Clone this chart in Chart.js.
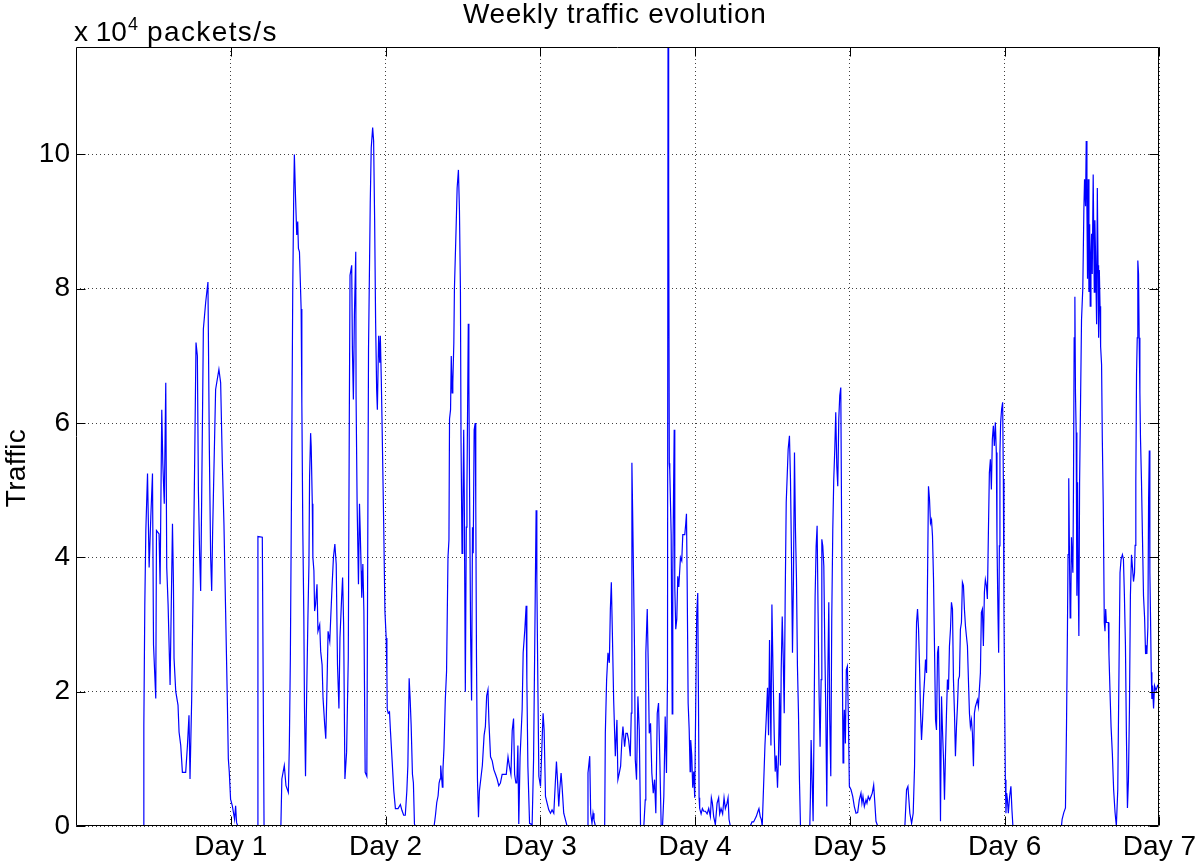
<!DOCTYPE html>
<html>
<head>
<meta charset="utf-8">
<script src="https://cdn.jsdelivr.net/npm/chart.js@4"></script>
<style>
html,body{margin:0;padding:0;background:#ffffff;}
#wrap{width:1200px;height:865px;}
</style>
</head>
<body>
<div id="wrap"><canvas id="c" width="1200" height="865"></canvas></div>
<script>
// ---- data (time in hours since start of week, traffic in 10^4 packets/s) ----
const hours = [
  0,10.47,10.52,10.67,10.83,11.09,11.34,11.60,11.86,12.02,
  12.37,12.48,12.88,13.04,13.30,13.46,13.69,13.92,14.07,14.28,
  14.59,14.96,15.11,15.20,15.47,15.82,15.98,16.24,16.50,17.01,
  17.28,17.52,17.68,17.94,18.14,18.41,18.61,18.82,18.98,19.18,
  19.33,19.49,19.75,20.11,20.46,20.68,20.88,21.04,21.19,21.65,
  22.16,22.43,22.69,22.94,23.20,23.46,23.62,23.77,23.97,24.24,
  24.59,24.75,24.90,25.10,
  28.07,28.21,28.89,29.16,31.77,31.92,32.30,32.56,32.93,33.08,
  33.24,33.44,33.61,33.76,33.86,34.03,34.23,34.38,34.49,34.65,
  34.91,35.02,35.17,35.33,35.43,35.59,35.70,35.96,36.12,36.22,
  36.38,36.47,36.64,36.73,36.89,37.00,37.15,37.37,37.52,37.79,
  37.94,38.16,38.31,38.57,38.73,38.88,39.09,39.35,39.50,39.72,
  39.92,40.14,40.35,40.55,40.77,40.93,41.19,41.34,41.50,41.70,
  41.96,42.22,42.38,42.49,42.75,42.86,43.01,43.17,43.38,43.43,
  43.59,43.80,43.96,44.07,44.22,44.31,44.48,44.64,44.84,45.10,
  45.36,45.63,45.78,46.00,46.15,46.31,46.46,46.62,46.73,46.93,
  47.10,47.19,47.34,47.45,47.72,47.90,48.10,48.21,48.26,48.41,
  48.61,48.77,49.02,49.28,49.53,49.94,50.30,50.55,50.81,51.06,
  51.30,51.46,51.66,51.81,51.97,52.17,52.32,52.48,52.59,
  55.53,55.74,55.94,56.15,56.30,56.45,56.55,56.66,56.81,56.90,
  57.06,57.26,57.46,57.68,57.83,57.92,58.08,58.19,58.33,58.43,
  58.59,58.68,58.94,59.10,59.30,59.46,59.61,59.70,59.86,59.97,
  60.12,60.21,60.37,60.52,60.62,60.83,60.92,61.03,61.19,61.34,
  61.48,61.59,61.74,61.90,61.99,62.10,62.25,62.41,62.55,62.77,
  63.01,63.28,63.48,63.68,63.88,64.03,64.28,64.54,64.79,65.05,
  65.30,65.56,65.81,66.08,66.32,66.72,66.99,67.19,67.44,67.64,
  67.85,68.01,68.21,68.36,68.52,68.66,68.86,69.18,69.34,69.60,
  69.80,69.91,70.07,70.33,70.73,70.95,71.10,71.26,71.35,71.46,
  71.61,71.77,72.03,72.28,72.43,72.59,72.80,73.05,73.31,73.58,
  73.82,74.09,74.35,74.50,74.66,74.86,75.01,75.22,75.37,75.63,
  75.90,76.14,
  79.24,79.39,79.66,79.81,80.01,80.17,80.32,80.54,81.98,82.08,
  82.28,82.49,82.70,82.86,83.01,83.17,83.37,83.63,83.88,84.03,
  84.25,84.45,84.65,84.81,85.07,85.27,85.49,85.69,85.95,86.10,
  86.20,86.31,86.46,86.61,86.72,86.92,87.13,87.34,87.54,88.05,
  88.27,88.36,88.58,88.73,88.89,89.09,89.29,89.51,89.71,89.91,
  90.13,90.33,90.53,90.74,90.95,91.15,91.36,91.56,91.72,91.80,
  91.90,92.00,92.07,92.29,92.45,92.54,92.65,92.76,92.85,93.00,
  93.16,93.31,93.47,93.73,93.93,94.09,94.40,94.55,94.66,94.77,
  94.92,95.08,95.23,95.32,95.48,95.63,95.79,95.94,96.10,96.25,
  96.41,96.51,96.62,96.71,96.93,97.13,97.33,97.60,97.86,98.11,
  98.37,98.52,98.68,98.88,99.14,99.41,99.65,99.81,100.02,100.27,
  100.49,100.69,100.95,101.11,101.26,101.46,
  104.56,104.82,105.07,105.48,105.75,105.90,106.10,106.26,106.41,106.61,
  106.83,107.03,107.23,107.39,107.54,107.76,107.91,108.07,108.27,108.42,
  108.58,108.78,108.93,109.09,109.23,109.35,109.51,109.66,109.82,109.97,
  110.13,110.28,110.43,110.63,110.79,110.94,111.10,111.25,111.41,111.56,
  111.72,111.87,112.03,112.18,112.34,113.79,113.88,113.99,114.14,114.30,
  114.46,114.61,114.77,114.92,115.07,115.23,115.38,115.54,115.65,115.80,
  115.96,116.11,116.27,116.42,116.57,116.73,116.88,117.04,117.19,117.35,
  117.50,117.66,117.81,117.97,118.12,118.28,118.43,118.59,118.74,118.83,
  118.94,119.05,119.14,119.30,119.45,119.61,119.76,119.92,120.18,120.44,
  120.69,120.95,121.21,121.46,121.72,121.87,122.03,122.24,122.50,122.65,
  122.85,123.07,123.27,123.47,123.69,123.84,124.05,124.31,
  128.53,128.79,129.00,129.15,129.30,129.57,129.82,130.03,130.18,130.34,
  130.49,130.65,130.80,130.96,131.11,131.27,131.42,131.58,131.73,131.89,
  132.04,132.19,132.35,132.50,132.66,132.81,132.97,133.12,133.28,133.43,
  133.59,133.74,133.90,134.05,134.21,134.36,134.52,134.67,134.82,134.98,
  135.13,135.29,135.44,135.60,135.75,135.91,136.06,136.22,136.37,136.53,
  136.68,136.83,136.99,137.14,137.30,137.45,137.61,137.76,137.92,138.07,
  138.23,138.38,138.54,138.69,138.85,139.00,139.16,139.31,139.47,139.62,
  139.77,139.93,140.08,140.24,140.39,140.55,140.70,140.86,141.01,141.17,
  141.32,141.48,141.63,141.79,141.94,142.09,142.25,142.40,142.56,142.71,
  142.81,142.96,143.07,143.18,143.27,143.38,143.53,143.69,143.80,143.89,
  144.00,144.11,144.20,144.31,144.42,144.57,144.77,144.97,145.13,145.28,
  152.81,152.91,153.17,153.43,153.59,153.74,153.83,153.94,154.05,154.16,
  154.25,154.36,154.47,154.58,154.67,154.78,154.89,154.98,155.09,155.20,
  155.31,155.40,155.51,155.62,155.77,155.92,156.12,156.28,156.39,156.54,
  156.65,156.76,156.85,156.96,157.07,157.18,157.27,157.38,157.48,157.58,
  157.73,157.90,157.99,158.10,158.26,158.37,158.48,158.57,158.68,158.79,
  158.88,159.03,159.14,159.29,159.45,159.56,159.67,159.77,160.08,160.17,
  160.33,160.50,160.70,160.90,161.12,161.32,161.54,161.74,161.89,162.05,
  162.26,162.42,162.57,162.73,162.88,163.04,163.19,163.35,163.50,163.67,
  163.83,163.98,164.14,164.23,164.34,164.45,164.56,164.65,164.76,164.86,
  164.97,165.06,165.22,165.37,165.53,165.70,165.85,165.96,166.05,166.21,
  166.32,166.43,166.52,166.62,166.73,166.83,166.93,167.09,167.24,167.46,
  167.72,168
];

const traffic = [
  0,0,1.5,3.3,4.4,5.25,3.85,4.6,5.25,2.7,
  1.9,4.4,4.35,3.6,6.2,5.4,4.8,6.6,3.85,3.3,
  2.1,4.5,3.6,2.5,2.0,1.8,1.4,1.2,0.8,0.8,
  1.2,1.65,0.7,1.9,3.4,5.5,7.2,7.0,5.0,4.0,
  3.5,4.9,7.4,7.8,8.1,5.6,4.0,3.5,4.4,6.5,
  6.8,6.6,5.4,4.5,3.2,1.9,1.0,0.8,0.4,0.3,
  0.1,0.3,0.05,0,
  0,4.31,4.3,0,0,0.7,0.9,0.6,0.5,1.2,
  2.5,5.3,8.0,9.4,10.0,9.4,8.8,9.0,8.6,8.55,
  7.7,6.3,4.4,3.1,1.75,0.74,1.55,3.1,3.9,5.2,
  5.85,5.65,4.8,4.0,3.8,3.2,3.3,3.6,2.9,3.0,
  2.6,2.4,1.9,1.5,1.3,1.9,2.9,2.75,3.1,3.6,
  4.0,4.2,3.9,2.4,1.75,2.8,3.4,3.7,3.0,0.7,
  1.1,2.5,6.05,8.2,8.35,7.1,6.35,7.6,8.55,6.4,
  4.8,3.6,4.8,4.4,3.8,3.4,3.9,3.2,0.8,0.74,
  7.1,9.3,10.1,10.4,10.2,9.0,7.5,6.5,6.2,7.3,
  6.9,7.3,6.65,6.05,4.45,3.2,2.8,2.26,1.74,1.68,
  1.7,1.4,0.97,0.52,0.26,0.26,0.32,0.23,0.16,0.16,
  0.52,0.9,2.2,1.9,1.5,0.77,0.64,0.03,0,
  0,0.16,0.35,0.45,0.64,0.7,0.9,0.77,0.58,0.84,
  1.16,1.87,2.3,4.0,4.26,6.06,6.2,7.0,6.45,6.6,
  7.2,8.0,8.9,9.5,9.77,9.16,8.0,5.8,4.06,4.58,
  5.9,4.9,2.0,4.45,5.0,7.48,6.6,5.0,2.84,1.87,
  4.45,4.06,5.9,6.0,4.77,2.52,0.7,0.13,0.52,0.7,
  0.9,1.35,1.48,1.94,2.03,1.55,1.03,0.97,0.84,0.77,
  0.7,0.6,0.64,0.77,0.77,0.77,1.03,0.9,0.77,1.42,
  1.6,0.77,0.64,0.64,1.2,0.03,1.03,1.73,2.58,2.93,
  3.28,2.18,0.89,0.04,0.02,0.98,2.38,3.9,4.7,3.67,
  2.18,0.74,0.59,1.28,1.68,1.43,0.44,0.34,0.24,0.19,
  0.24,0.19,0.69,0.96,0.69,0.29,0.54,0.79,0.59,0.19,
  0.09,0,
  0,0.79,1.04,0.19,0.04,0.19,0.09,0,0,1.38,
  2.18,2.58,2.43,3.23,3.63,2.88,1.88,1.04,1.58,0.69,
  0.79,0.89,1.28,1.48,1.18,1.38,1.38,1.28,1.04,1.68,
  5.41,4.71,3.67,2.58,0.99,0.69,1.93,1.43,0,0,
  0.39,2.58,3.23,2.43,1.38,1.53,0.79,0.49,0.69,0.19,
  1.68,1.83,0.99,0,0,0.44,1.63,0.79,2.2,11.6,
  9.5,5.4,5.3,4.34,1.67,3.72,4.9,5.9,3.56,2.93,
  3.08,3.72,3.56,4.0,3.95,4.34,4.34,4.5,4.65,3.64,
  1.83,1.44,0.81,1.28,1.05,0.57,0.81,0.42,1.83,3.16,
  3.47,2.06,0.42,0.26,0.18,0.26,0.22,0.22,0.18,0.26,
  0.14,0.42,0.34,0.14,0.02,0.34,0.42,0.18,0.26,0.18,
  0.42,0.26,0.34,0.42,0.1,0,
  0,0.06,0.06,0.14,0.22,0.26,0.14,0.1,0,0.57,
  1.2,1.6,2.06,1.35,2.77,1.2,3.3,2.38,1.35,0.81,
  1.05,0.57,1.05,1.98,0.9,2.33,3.12,2.53,1.68,3.42,
  4.82,5.21,5.61,5.81,5.16,4.07,2.58,3.67,5.56,4.42,
  3.67,2.38,1.68,0.69,0,0,0.44,1.28,0.69,0.07,
  1.68,3.42,4.17,4.47,3.18,1.93,1.18,2.18,4.27,4.17,
  3.87,2.68,1.68,0.29,2.18,3.33,1.58,0.74,3.08,4.42,
  5.16,5.61,6.16,5.36,5.06,6.06,6.41,6.53,4.17,2.43,
  0.94,1.48,1.73,1.23,2.33,2.38,1.68,0.59,0.54,0.44,
  0.29,0.19,0.2,0.39,0.49,0.34,0.44,0.29,0.39,0.34,
  0.44,0.39,0.44,0.49,0.61,0.39,0.07,0,
  0,0.54,0.59,0.39,0.19,0.04,0.19,0.89,2.18,3.03,
  3.23,2.93,2.38,1.68,1.28,1.58,1.93,2.18,2.48,2.28,
  3.67,5.06,4.86,4.51,4.56,4.32,3.67,2.68,1.58,1.43,
  2.58,2.68,1.68,0.07,1.93,1.43,0.99,0.39,1.04,1.68,
  2.18,2.03,2.68,2.93,3.33,3.23,2.18,1.68,1.04,1.48,
  1.78,2.18,2.23,2.93,3.03,3.63,3.58,3.23,2.98,2.83,
  2.68,2.18,1.68,1.48,1.58,1.38,0.89,1.68,1.78,1.83,
  1.88,1.78,2.03,2.28,3.18,3.23,2.68,3.48,3.67,3.58,
  3.38,4.37,5.26,5.46,5.01,5.76,5.96,5.66,6.01,5.56,
  4.27,3.18,2.58,4.17,5.56,6.01,6.21,6.31,5.16,3.18,
  1.88,0.69,0.19,0.49,0.4,0.19,0.44,0.59,0.24,0,
  0,0.1,0.2,0.27,1.48,2.96,4.04,5.18,4.04,3.1,
  3.23,4.3,4.04,3.77,5.0,7.27,7.88,6.46,5.86,3.43,
  5.12,3.7,2.83,5.12,6.33,7.54,8.01,9.16,9.63,9.23,
  10.2,9.16,8.15,9.63,7.95,8.96,7.74,8.48,8.82,8.22,
  9.7,7.95,9.02,8.48,7.47,9.5,8.35,7.27,8.28,7.74,
  7.14,6.87,5.79,4.78,3.03,2.9,3.23,3.03,3.03,2.56,
  2.02,1.48,1.08,0.54,0.2,0,0.54,2.42,3.77,3.97,
  4.04,3.97,3.43,2.69,1.35,0.27,0.67,1.75,3.43,4.04,
  3.84,3.64,3.77,4.18,5.12,6.73,7.27,8.42,8.22,7.27,
  6.46,5.79,5.12,4.3,3.43,3.1,2.56,2.69,2.56,2.96,
  4.85,5.59,3.77,3.1,2.29,1.89,2.09,1.75,2.09,2.02,
  2.09,2.05
];

const yTicks = [0, 2, 4, 6, 8, 10];
const dayTicks = [24, 48, 72, 96, 120, 144, 168];
const dayLabels = ['Day 1', 'Day 2', 'Day 3', 'Day 4', 'Day 5', 'Day 6', 'Day 7'];
const chartTitle = 'Weekly traffic evolution';
const yAxisTitle = 'Traffic';
const unitLabel = ['x 10', '4', 'packets/s'];
const yMax = 11.6;
const xMax = 168;

// ---- drawing ----
const FONT = '"Liberation Sans", Arial, Helvetica, sans-serif';

function setSpacing(ctx, v) { if ('letterSpacing' in ctx) ctx.letterSpacing = v; }

const framePlugin = {
  id: 'matlabFrame',
  afterDatasetsDraw(chart) {
    const { ctx, chartArea: a, scales } = chart;
    const L = Math.round(a.left) + 0.5, R = Math.round(a.right) - 0.5;
    const T = Math.round(a.top) + 0.5, B = Math.round(a.bottom) - 0.5;
    ctx.save();
    ctx.strokeStyle = '#000000';
    ctx.lineWidth = 1;
    ctx.setLineDash([]);
    ctx.beginPath();
    ctx.rect(L, T, R - L, B - T);
    const tk = 9;
    yTicks.forEach(v => {
      const py = Math.round(scales.y.getPixelForValue(v)) + 0.5;
      ctx.moveTo(L, py); ctx.lineTo(L + tk, py);
      ctx.moveTo(R, py); ctx.lineTo(R - tk, py);
    });
    dayTicks.forEach(v => {
      const px = Math.round(scales.x.getPixelForValue(v)) + 0.5;
      ctx.moveTo(px, B); ctx.lineTo(px, B - tk);
      ctx.moveTo(px, T); ctx.lineTo(px, T + tk);
    });
    ctx.stroke();
    ctx.restore();
  },
  afterDraw(chart) {
    const { ctx, chartArea: a } = chart;
    ctx.save();
    ctx.fillStyle = '#000000';
    ctx.textBaseline = 'alphabetic';
    // title
    ctx.font = '28px ' + FONT;
    setSpacing(ctx, '0.7px');
    ctx.textAlign = 'center';
    ctx.fillText(chartTitle, (a.left + a.right) / 2 - 3, 23);
    // unit label  "x 10^4 packets/s"
    ctx.textAlign = 'left';
    setSpacing(ctx, '0px');
    let x = a.left - 2;
    ctx.font = '28px ' + FONT;
    ctx.fillText(unitLabel[0], x, 41);
    x += ctx.measureText(unitLabel[0]).width + 1;
    ctx.font = '18px ' + FONT;
    ctx.fillText(unitLabel[1], x, 30);
    x += ctx.measureText(unitLabel[1]).width + 9;
    ctx.font = '28px ' + FONT;
    setSpacing(ctx, '1.4px');
    ctx.fillText(unitLabel[2], x, 41);
    // y-axis title
    setSpacing(ctx, '0.3px');
    ctx.translate(17, 468);
    ctx.rotate(-Math.PI / 2);
    ctx.textAlign = 'center';
    ctx.textBaseline = 'middle';
    ctx.font = '28px ' + FONT;
    ctx.fillText(yAxisTitle, 0, 0);
    ctx.restore();
  }
};

const gridStyle = {
  color: 'rgba(0,0,0,0.75)',
  lineWidth: 1,
  drawTicks: false
};

new Chart(document.getElementById('c').getContext('2d'), {
  type: 'line',
  data: {
    datasets: [{
      data: hours.map((h, i) => ({ x: h, y: traffic[i] })),
      borderColor: '#0000ff',
      borderWidth: 1.2,
      pointRadius: 0,
      tension: 0,
      fill: false
    }]
  },
  options: {
    responsive: false,
    animation: false,
    devicePixelRatio: 1,
    layout: { padding: { left: 0, top: 47, right: 39, bottom: 0 } },
    plugins: {
      legend: { display: false },
      title: { display: false },
      tooltip: { enabled: false }
    },
    scales: {
      x: {
        type: 'linear',
        min: 0,
        max: xMax,
        afterBuildTicks: s => { s.ticks = dayTicks.map(v => ({ value: v })); },
        afterFit: s => { s.height = 39; },
        ticks: {
          callback: v => { const i = dayTicks.indexOf(v); return i >= 0 ? dayLabels[i] : ''; },
          font: { family: FONT, size: 28 },
          color: '#000000',
          padding: 4,
          maxRotation: 0,
          autoSkip: false
        },
        grid: gridStyle,
        border: { display: false, dash: [1, 3] }
      },
      y: {
        type: 'linear',
        min: 0,
        max: yMax,
        afterBuildTicks: s => { s.ticks = yTicks.map(v => ({ value: v })); },
        afterFit: s => { s.width = 76; },
        ticks: {
          font: { family: FONT, size: 28 },
          color: '#000000',
          padding: 6
        },
        grid: gridStyle,
        border: { display: false, dash: [1, 3] },
        title: { display: false }
      }
    }
  },
  plugins: [framePlugin]
});
</script>
</body>
</html>
